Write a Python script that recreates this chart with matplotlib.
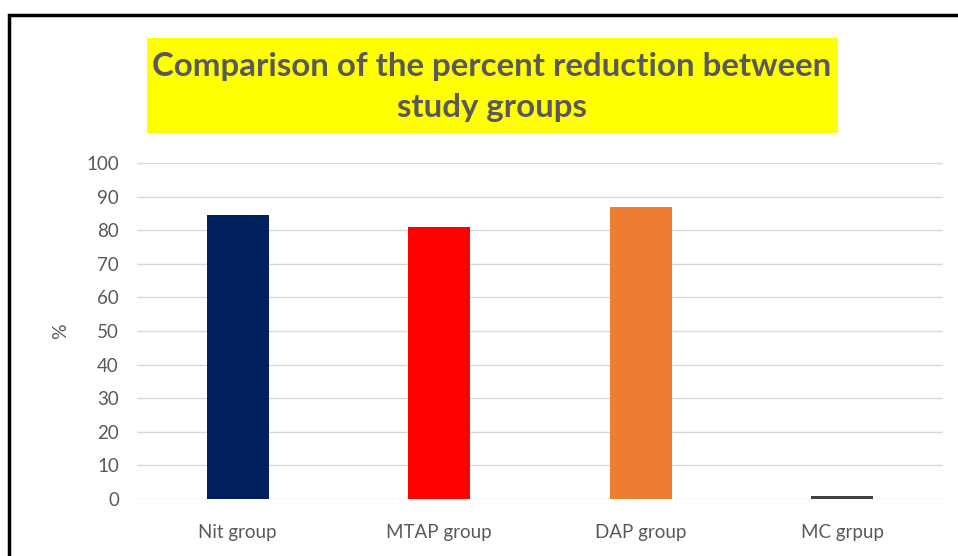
import matplotlib.pyplot as plt
from matplotlib.patches import Rectangle

groups = ['Nit group', 'MTAP group', 'DAP group', 'MC grpup']
reduction = [84.5, 81.0, 87.0, 0.8]
colors = ['#002060', '#FF0000', '#ED7D31', '#404040']
yticks = list(range(0, 101, 10))

plt.rcParams['font.family'] = ['Lato', 'DejaVu Sans']

fig = plt.figure(figsize=(9.58, 5.56), dpi=100)
W, H = 958, 556
ax = fig.add_axes([137 / W, 1 - 499 / H, (943 - 137) / W, (499 - 163) / H])

x = range(len(groups))
ax.bar(x, reduction, width=0.31, color=colors, zorder=3)
ax.set_xlim(-0.5, len(groups) - 0.5)
ax.set_ylim(0, 100)
ax.set_yticks(yticks)
ax.set_xticks(list(x))
ax.set_xticklabels(groups)
ax.grid(axis='y', color='#D9D9D9', lw=1, zorder=0)
for s in ax.spines.values():
    s.set_visible(False)
ax.tick_params(length=0, labelsize=13.5, labelcolor='#595959')
ax.tick_params(axis='x', pad=18)
ax.tick_params(axis='y', pad=13)
ax.set_ylabel('%', fontsize=14, color='#595959', labelpad=12)

# frame of the original screenshot
fig.add_artist(Rectangle((9 / W, -0.1), 1.2, 1 - 15 / H + 0.1, transform=fig.transFigure,
                         fill=False, edgecolor='black', lw=2.5))

# yellow title box
fig.add_artist(Rectangle((147 / W, 1 - 133 / H), (838 - 147) / W, 95 / H,
                         transform=fig.transFigure, facecolor='#FFFF00', edgecolor='none'))
fig.text(492 / W, 1 - 87 / H, 'Comparison of the percent reduction between\nstudy groups',
         ha='center', va='center', fontsize=23.8, fontweight='bold', color='#595959',
         linespacing=1.5)

fig.savefig('out.png', dpi=100)
